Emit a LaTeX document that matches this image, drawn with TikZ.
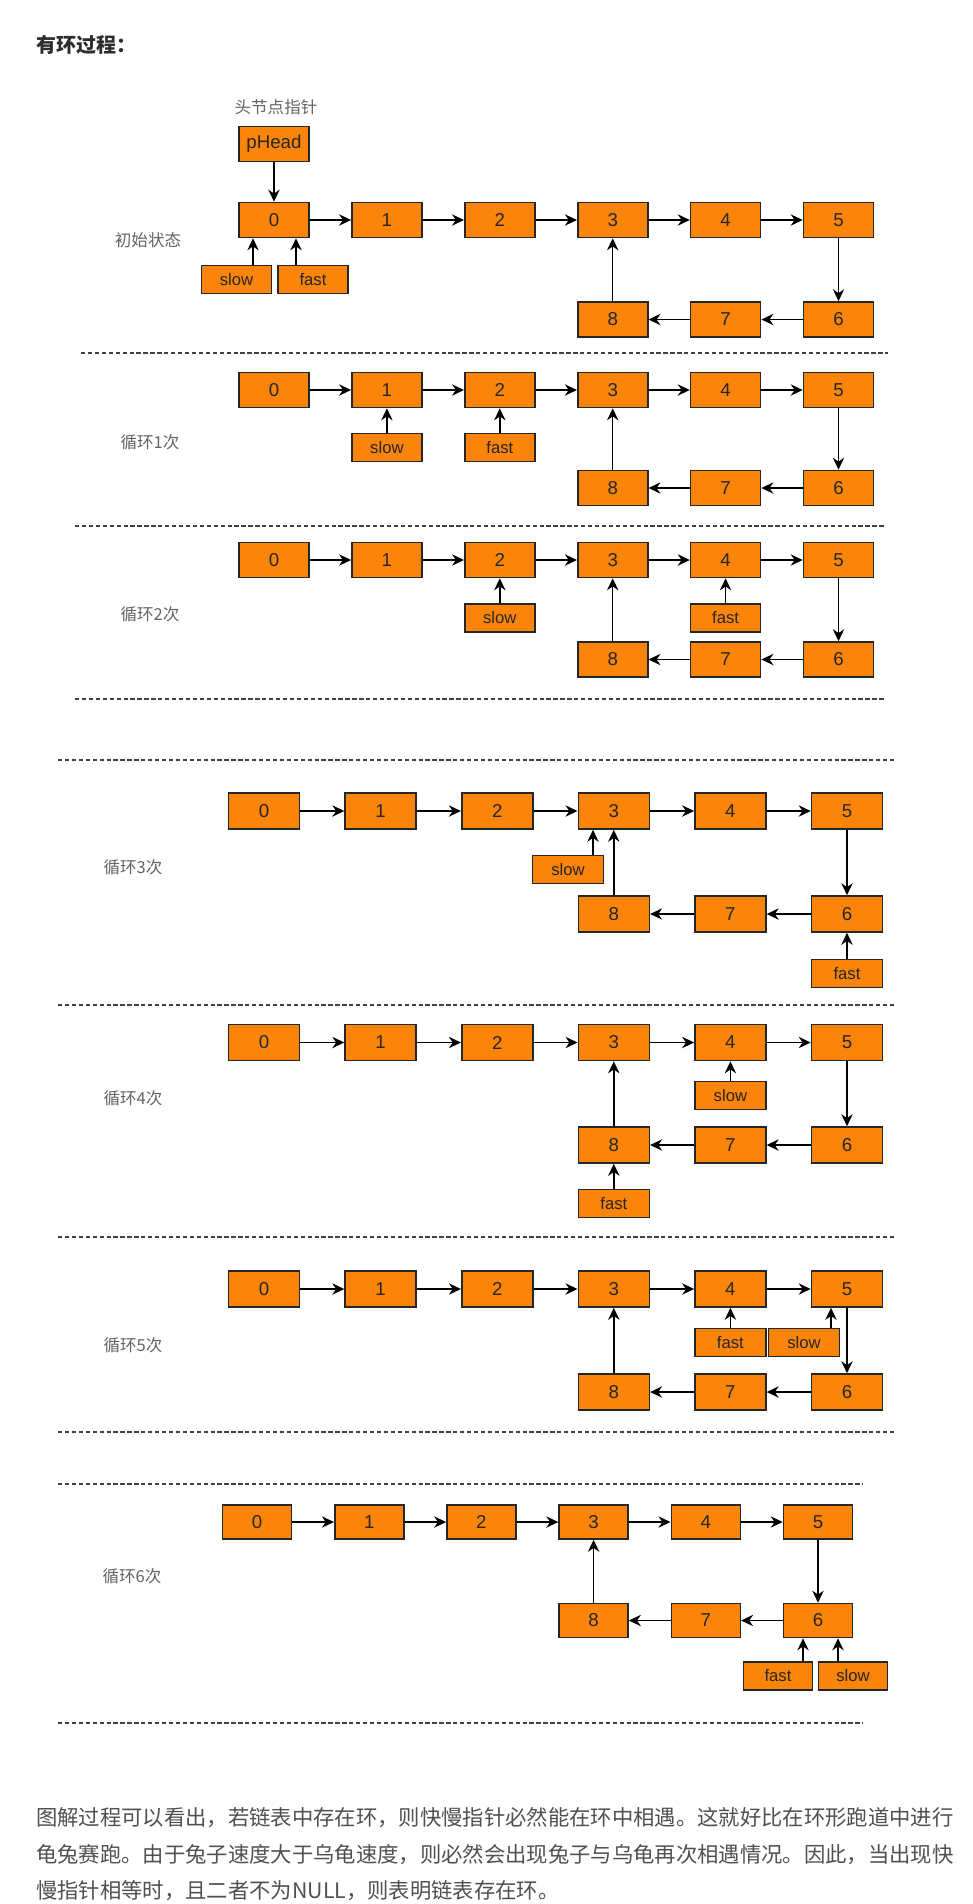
\documentclass[tikz,border=0pt]{standalone}
\usepackage{fontspec}
\setmainfont{Liberation Sans}
\newfontfamily\cjk{Noto Sans CJK SC}
\usetikzlibrary{arrows.meta,calc}
\definecolor{boxorange}{RGB}{250,133,10}
\definecolor{labelgray}{RGB}{100,100,100}
\definecolor{textgray}{RGB}{80,80,80}
\definecolor{titlegray}{RGB}{45,45,45}
\tikzset{
  nd/.style={draw=black!85, fill=boxorange, line width=1.2pt, inner sep=0pt,
    text=black!85, font=\fontsize{14pt}{14pt}\selectfont},
  ptr/.style={draw=black!85, fill=boxorange, line width=1.2pt, inner sep=0pt,
    minimum width=52.5pt, minimum height=21pt, text=black!85,
    font=\fontsize{12.5pt}{12.5pt}\selectfont},
  arr/.style={-{Stealth[length=9pt,width=8.5pt]}, line width=1.15pt, draw=black},
  sep/.style={draw=black!75, line width=1.4pt, dash pattern=on 3.2pt off 2pt},
  steplabel/.style={text=labelgray, font=\cjk\fontsize{12.4pt}{12.4pt}\selectfont},
  para/.style={anchor=west, inner sep=0pt, text=textgray, font=\cjk\fontsize{16pt}{16pt}\selectfont}
}
% #1 prefix, #2 x0, #3 dx, #4 ytop, #5 ybot, #6 width, #7 height
\newcommand{\linkchain}[7]{%
  \foreach \k in {0,...,5}{\node[nd,minimum width=#6,minimum height=#7] (#1\k) at ({#2+\k*#3},#4) {\k};}
  \node[nd,minimum width=#6,minimum height=#7] (#16) at ({#2+5*#3},#5) {6};
  \node[nd,minimum width=#6,minimum height=#7] (#17) at ({#2+4*#3},#5) {7};
  \node[nd,minimum width=#6,minimum height=#7] (#18) at ({#2+3*#3},#5) {8};
  \foreach \k/\m in {0/1,1/2,2/3,3/4,4/5,5/6,6/7,7/8,8/3}{\draw[arr] (#1\k) -- (#1\m);}
}
\begin{document}
\begin{tikzpicture}[x=0.75pt,y=-0.75pt]
\fill[white] (0,0) rectangle (973,1904);
\useasboundingbox (0,0) rectangle (973,1904);

% title
\node[anchor=west, inner sep=0pt, text=titlegray, font=\cjk\bfseries\fontsize{15pt}{15pt}\selectfont] (title) at (36,45) {有环过程：};

% ---------- initial state ----------
\linkchain{a}{274}{112.9}{220}{319.5}{52.5pt}{26.25pt}
\node[nd, minimum width=52.5pt, minimum height=26.25pt] (ph) at (274,144) {pHead};
\node[text=labelgray, font=\cjk\fontsize{12.4pt}{12.4pt}\selectfont] (phl) at (276,107) {头节点指针};
\draw[arr] (ph) -- (a0);
\node[ptr] (aslow) at (236.5,279.5) {slow};
\node[ptr] (afast) at (313,279.5) {fast};
\path (aslow.north) ++(16.5,0) coordinate (aslowt);
\path (afast.north) ++(-17,0) coordinate (afastt);
\draw[arr] (aslowt) -- (aslowt |- a0.south);
\draw[arr] (afastt) -- (afastt |- a0.south);
\node[steplabel] (la) at (148,240) {初始状态};
\draw[sep] (81,353) -- (888,353);

% ---------- loop 1 ----------
\linkchain{b}{274}{112.9}{390}{488}{52.5pt}{26.25pt}
\node[ptr] (bslow) at ($(b1)+(0,57.5)$) {slow};
\node[ptr] (bfast) at ($(b2)+(0,57.5)$) {fast};
\draw[arr] (bslow) -- (b1);
\draw[arr] (bfast) -- (b2);
\node[steplabel] (lb) at (150,442) {循环1次};
\draw[sep] (75,526) -- (884,526);

% ---------- loop 2 ----------
\linkchain{c}{274}{112.9}{560}{659.5}{52.5pt}{26.25pt}
\node[ptr] (cslow) at ($(c2)+(0,58)$) {slow};
\node[ptr] (cfast) at ($(c4)+(0,58)$) {fast};
\draw[arr] (cslow) -- (c2);
\draw[arr] (cfast) -- (c4);
\node[steplabel] (lc) at (150,614) {循环2次};
\draw[sep] (75,699) -- (884,699);

% ---------- loop 3 ----------
\draw[sep] (58,760) -- (894,760);
\linkchain{d}{264}{116.6}{811}{914}{53.25pt}{27pt}
\node[ptr, minimum width=53.25pt] (dslow) at (568,869.5) {slow};
\path (dslow.north) ++(25,0) coordinate (dslowt);
\draw[arr] (dslowt) -- (dslowt |- d3.south);
\node[ptr, minimum width=53.25pt] (dfast) at ($(d6)+(0,59.5)$) {fast};
\draw[arr] (dfast) -- (d6);
\node[steplabel] (ld) at (133,867) {循环3次};
\draw[sep] (58,1005) -- (894,1005);

% ---------- loop 4 ----------
\linkchain{e}{264}{116.6}{1042.5}{1145}{53.25pt}{27pt}
\node[ptr, minimum width=53.25pt] (eslow) at ($(e4)+(0,53)$) {slow};
\node[ptr, minimum width=53.25pt] (efast) at ($(e8)+(0,58.5)$) {fast};
\draw[arr] (eslow) -- (e4);
\draw[arr] (efast) -- (e8);
\node[steplabel] (le) at (133,1098) {循环4次};
\draw[sep] (58,1237) -- (894,1237);

% ---------- loop 5 ----------
\linkchain{f}{264}{116.6}{1289}{1392}{53.25pt}{27pt}
\node[ptr, minimum width=53.25pt] (ffast) at ($(f4)+(0,53.5)$) {fast};
\draw[arr] (ffast) -- (f4);
\node[ptr, minimum width=53.25pt] (fslow) at (804,1342.5) {slow};
\path (fslow.north) ++(27,0) coordinate (fslowt);
\draw[arr] (fslowt) -- (fslowt |- f5.south);
\node[steplabel] (lf) at (133,1345) {循环5次};
\draw[sep] (58,1432) -- (894,1432);

% ---------- loop 6 ----------
\draw[sep] (58,1484) -- (863,1484);
\linkchain{g}{257}{112.2}{1522}{1620.5}{51.75pt}{25.5pt}
\node[ptr, minimum width=51.75pt] (gfast) at (778,1676) {fast};
\node[ptr, minimum width=51.75pt] (gslow) at (853,1676) {slow};
\path (gfast.north) ++(25,0) coordinate (gfastt);
\path (gslow.north) ++(-15,0) coordinate (gslowt);
\draw[arr] (gfastt) -- (gfastt |- g6.south);
\draw[arr] (gslowt) -- (gslowt |- g6.south);
\node[steplabel] (lg) at (132,1576) {循环6次};
\draw[sep] (58,1723) -- (863,1723);

% ---------- paragraph ----------
\node[para] (p1) at (36,1818) {图解过程可以看出，若链表中存在环，则快慢指针必然能在环中相遇。这就好比在环形跑道中进行};
\node[para] (p2) at (36,1855) {龟兔赛跑。由于兔子速度大于乌龟速度，则必然会出现兔子与乌龟再次相遇情况。因此，当出现快};
\node[para] (p3) at (36,1891) {慢指针相等时，且二者不为NULL，则表明链表存在环。};
\end{tikzpicture}
\end{document}
